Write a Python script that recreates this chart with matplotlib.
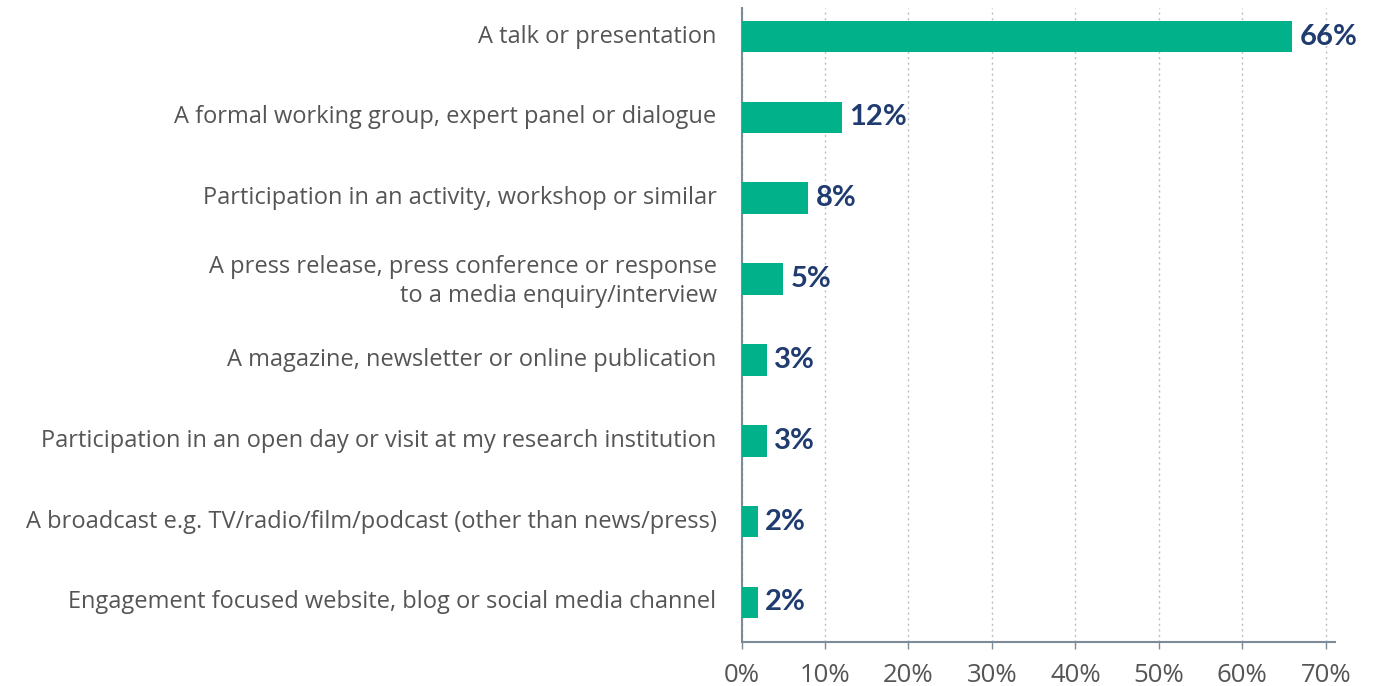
import matplotlib
matplotlib.use("Agg")
import matplotlib.pyplot as plt
import matplotlib.transforms as mtransforms
from matplotlib.ticker import FixedLocator, FuncFormatter

categories = [
    "A talk or presentation",
    "A formal working group, expert panel or dialogue",
    "Participation in an activity, workshop or similar",
    "A press release, press conference or response\nto a media enquiry/interview",
    "A magazine, newsletter or online publication",
    "Participation in an open day or visit at my research institution",
    "A broadcast e.g. TV/radio/film/podcast (other than news/press)",
    "Engagement focused website, blog or social media channel",
]
values = [66, 12, 8, 5, 3, 3, 2, 2]
x_ticks = [0, 10, 20, 30, 40, 50, 60, 70]

bar_color = "#00b189"
value_color = "#1f3b6f"
text_color = "#555555"
axis_color = "#7d8a97"
grid_color = "#b8bec4"
label_font = ["Open Sans", "DejaVu Sans"]

fig = plt.figure(figsize=(13.77, 6.86), dpi=100)
ax = fig.add_axes([0.5385, 0.064, 0.431, 0.924])

y = list(range(len(categories)))
ax.barh(y, values, height=0.39, color=bar_color, zorder=3)

for yi, v in zip(y, values):
    ax.text(v + 0.85, yi, f"{v}%", va="center", ha="left",
            fontsize=21, fontweight="bold", color=value_color,
            family=["Lato", "DejaVu Sans"], zorder=4)

ax.set_xlim(0, 71.1)
ax.set_ylim(7.49, -0.35)

ax.set_yticks(y)
ax.set_yticklabels(categories, fontsize=17, color=text_color,
                   family=label_font, linespacing=1.3)
ax.tick_params(axis="y", length=0, pad=18)
# nudge category labels up slightly
shift = mtransforms.ScaledTranslation(0, 3 / 100, fig.dpi_scale_trans)
for lbl in ax.get_yticklabels():
    lbl.set_transform(lbl.get_transform() + shift)

ax.xaxis.set_major_locator(FixedLocator(x_ticks))
ax.xaxis.set_major_formatter(FuncFormatter(lambda v, p: f"{int(v)}%"))
ax.tick_params(axis="x", length=5, width=1, color=axis_color, pad=10,
               labelsize=18.5, labelcolor=text_color)
for lbl in ax.get_xticklabels():
    lbl.set_family(label_font)

ax.grid(axis="x", linestyle=(0, (1.5, 2.5)), color=grid_color, linewidth=1, zorder=0)
ax.set_axisbelow(True)

for side in ("top", "right"):
    ax.spines[side].set_visible(False)
for side in ("left", "bottom"):
    ax.spines[side].set_color(axis_color)
    ax.spines[side].set_linewidth(1.5)

fig.savefig("out.png", dpi=100)
